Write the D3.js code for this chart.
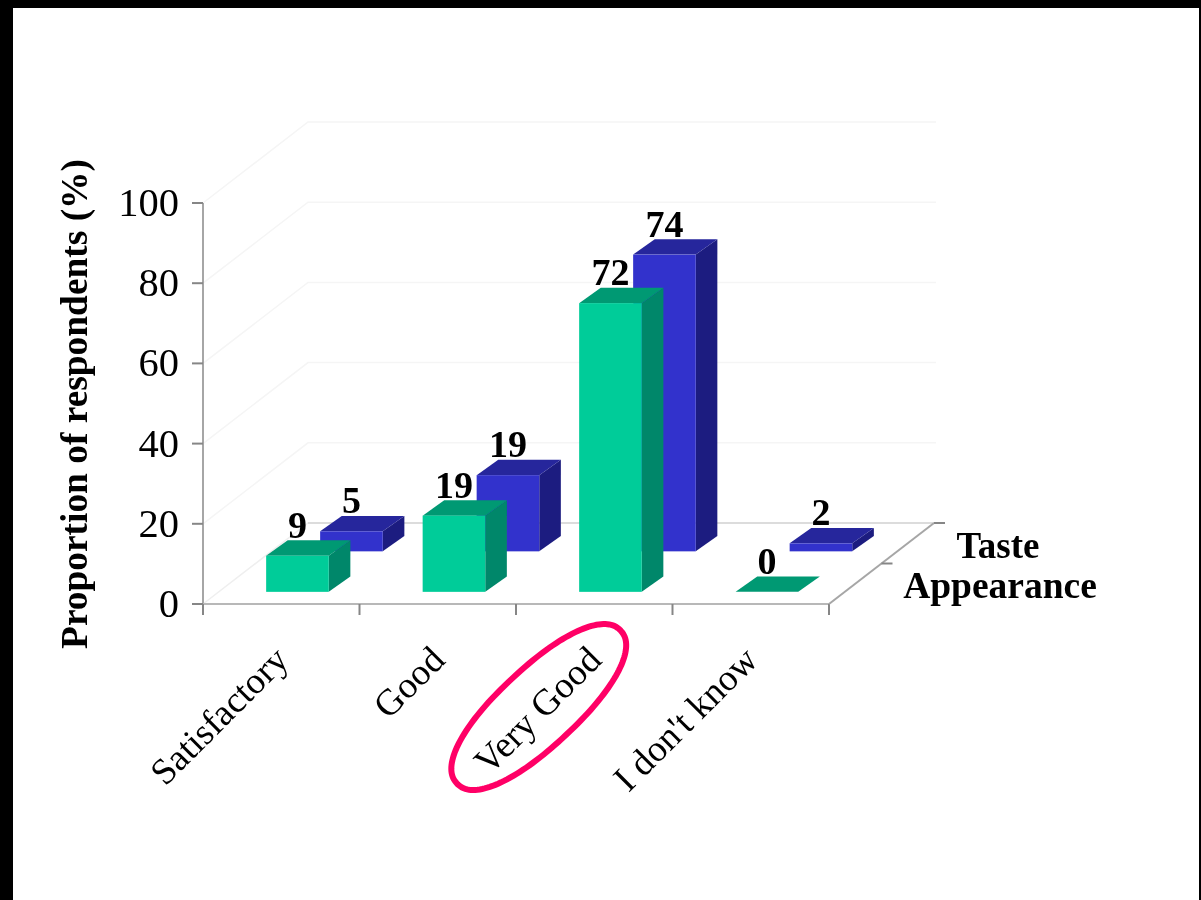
<!DOCTYPE html>
<html><head><meta charset="utf-8">
<style>html,body{margin:0;padding:0;background:#fff}svg{display:block}text{font-family:"Liberation Serif","Times New Roman",serif;fill:#000}</style>
<script src="https://cdn.jsdelivr.net/npm/d3@7"></script></head>
<body><script>
const categories = ["Satisfactory", "Good", "Very Good", "I don't know"];
const seriesNames = ["Taste", "Appearance"];
const appearance = [9, 19, 72, 0];
const taste = [5, 19, 74, 2];
const yTicks = [0, 20, 40, 60, 80, 100];
const axisTitle = "Proportion of respondents (%)";
const highlighted = "Very Good";

const W = 1201, H = 900;
const svg0 = d3.select("body").append("svg").attr("width", W).attr("height", H);
svg0.append("defs").append("filter").attr("id", "soft").attr("x", 0).attr("y", 0).attr("width", 1).attr("height", 1)
  .append("feGaussianBlur").attr("stdDeviation", 0.45);
svg0.append("rect").attr("width", W).attr("height", H).attr("fill", "#000");
svg0.append("rect").attr("x", 13).attr("y", 8).attr("width", 1186).attr("height", 892).attr("fill", "#fff");
const svg = svg0.append("g").attr("filter", "url(#soft)");
svg.append("rect").attr("x", 13).attr("y", 8).attr("width", 1186).attr("height", 892).attr("fill", "#fff");

const x0 = 203, x1 = 829, yBase = 604, yTop = 203, depthX = 105, depthY = -81, barSkewX = 108;
const x = d3.scaleBand().domain(categories).range([x0, x1]).paddingInner(0.6).paddingOuter(0.3);
const tickX = d3.scaleLinear().domain([0, categories.length]).range([x0, x1]);
const y = d3.scaleLinear().domain([0, 100]).range([yBase, yTop]);
const z = d3.scaleBand().domain(["Appearance", "Taste"]).range([0, 1]);
const barDepth = 0.19, barDepthX = 0.2, zInset = 0.15;

// walls
const grid = svg.append("g").attr("fill", "none");
yTicks.forEach(t => {
  const p = d3.path();
  p.moveTo(x0, y(t));
  p.lineTo(x0 + depthX, y(t) + depthY);
  p.lineTo(x1 + depthX + 2, y(t) + depthY);
  grid.append("path").attr("d", p.toString()).attr("stroke", t === 0 ? "#efefef" : "#f5f5f5").attr("stroke-width", 1.5);
});
svg.append("line").attr("x1", x0 + depthX).attr("x2", x1 + depthX).attr("y1", y(0) + depthY).attr("y2", y(0) + depthY)
  .attr("stroke", "#dcdcdc").attr("stroke-width", 2);

// axes
const axisColor = "#a6a6a6", tickColor = "#868686";
const yAxis = svg.append("g").attr("transform", `translate(${x0},0)`)
  .call(d3.axisLeft(y).tickValues(yTicks).tickSize(11).tickPadding(13).tickSizeOuter(0).offset(0));
yAxis.selectAll("text").style("font-size", "40.5px").style("font-family", '"Liberation Serif"');
yAxis.select(".domain").attr("stroke", axisColor).attr("stroke-width", 2);
yAxis.selectAll("line").attr("stroke", tickColor).attr("stroke-width", 2);

const xAxis = svg.append("g").attr("transform", `translate(0,${yBase})`)
  .call(d3.axisBottom(tickX).tickValues(d3.range(categories.length + 1)).tickSize(11).tickFormat("").tickSizeOuter(0).offset(0));
xAxis.select(".domain").attr("stroke", "#b8b8b8").attr("stroke-width", 2);
xAxis.selectAll("line").attr("stroke", tickColor).attr("stroke-width", 2);

// depth axis
svg.append("line").attr("x1", x1).attr("y1", yBase).attr("x2", x1 + depthX).attr("y2", yBase + depthY)
  .attr("stroke", axisColor).attr("stroke-width", 2);
[0.5, 1].forEach(f => {
  const bx = x1 + depthX * f, by = yBase + depthY * f;
  svg.append("line").attr("x1", bx).attr("x2", bx + 11).attr("y1", by).attr("y2", by).attr("stroke", tickColor).attr("stroke-width", 2);
});
svg.append("text").attr("x", 998).attr("y", 558).attr("text-anchor", "middle").attr("font-weight", "bold").attr("font-size", 37).text(seriesNames[0]);
svg.append("text").attr("x", 1000).attr("y", 598).attr("text-anchor", "middle").attr("font-weight", "bold").attr("font-size", 37.5).text(seriesNames[1]);

// bars
const palette = {
  Appearance: { front: "#00cc99", top: "#009973", side: "#00876a" },
  Taste: { front: "#3333cc", top: "#26269c", side: "#1f1f80" }
};
function drawSeries(name, values) {
  const c = palette[name];
  const zf = z(name) + zInset;
  const g = svg.append("g").attr("class", "series");
  categories.forEach((cat, i) => {
    const v = values[i];
    const fx = x(cat) + barSkewX * zf, w = x.bandwidth();
    const by = yBase + depthY * zf, ty = by - (yBase - y(v));
    const dx = barSkewX * barDepthX, dy = depthY * barDepth;
    const poly = pts => pts.map(p => p.join(",")).join(" ");
    g.append("polygon").attr("points", poly([[fx + w, ty], [fx + w + dx, ty + dy], [fx + w + dx, by + dy], [fx + w, by]])).attr("fill", c.side);
    g.append("polygon").attr("points", poly([[fx, ty], [fx + dx, ty + dy], [fx + w + dx, ty + dy], [fx + w, ty]])).attr("fill", c.top);
    if (v > 0) g.append("rect").attr("x", fx).attr("y", ty).attr("width", w).attr("height", by - ty).attr("fill", c.front);
  });
}
drawSeries("Taste", taste);
drawSeries("Appearance", appearance);

// value labels
function drawLabels(name, values) {
  const zf = z(name) + zInset;
  categories.forEach((cat, i) => {
    const fx = x(cat) + barSkewX * zf + x.bandwidth() / 2;
    const ty = yBase + depthY * zf - (yBase - y(values[i]));
    svg.append("text").attr("x", fx).attr("y", ty - 18).attr("text-anchor", "middle")
      .attr("font-weight", "bold").attr("font-size", 38).text(values[i]);
  });
}
drawLabels("Taste", taste);
drawLabels("Appearance", appearance);

// category labels
categories.forEach(cat => {
  const cx = x(cat) + x.bandwidth() / 2;
  svg.append("text").attr("text-anchor", "end").attr("font-size", 37)
    .attr("transform", `translate(${cx + 9},${662}) rotate(-45)`).text(cat);
});

// axis title
svg.append("text").attr("text-anchor", "middle").attr("font-weight", "bold").attr("font-size", 37.4)
  .attr("transform", "translate(87,404) rotate(-90)").text(axisTitle);

// highlight (rounded outline around the highlighted category)
const hx = x(highlighted) + x.bandwidth() / 2;
const a = 112, b = 39, n = 2.2;
const outline = d3.line().curve(d3.curveLinearClosed)(d3.range(0, 2 * Math.PI, 0.04).map(t => {
  const ct = Math.cos(t), st = Math.sin(t);
  return [a * Math.sign(ct) * Math.pow(Math.abs(ct), 2 / n), b * Math.sign(st) * Math.pow(Math.abs(st), 2 / n)];
}));
svg.append("path").attr("d", outline)
  .attr("transform", `translate(${hx - 55.5},707) rotate(-43)`)
  .attr("fill", "none").attr("stroke", "#ff0066").attr("stroke-width", 6);
</script></body></html>
